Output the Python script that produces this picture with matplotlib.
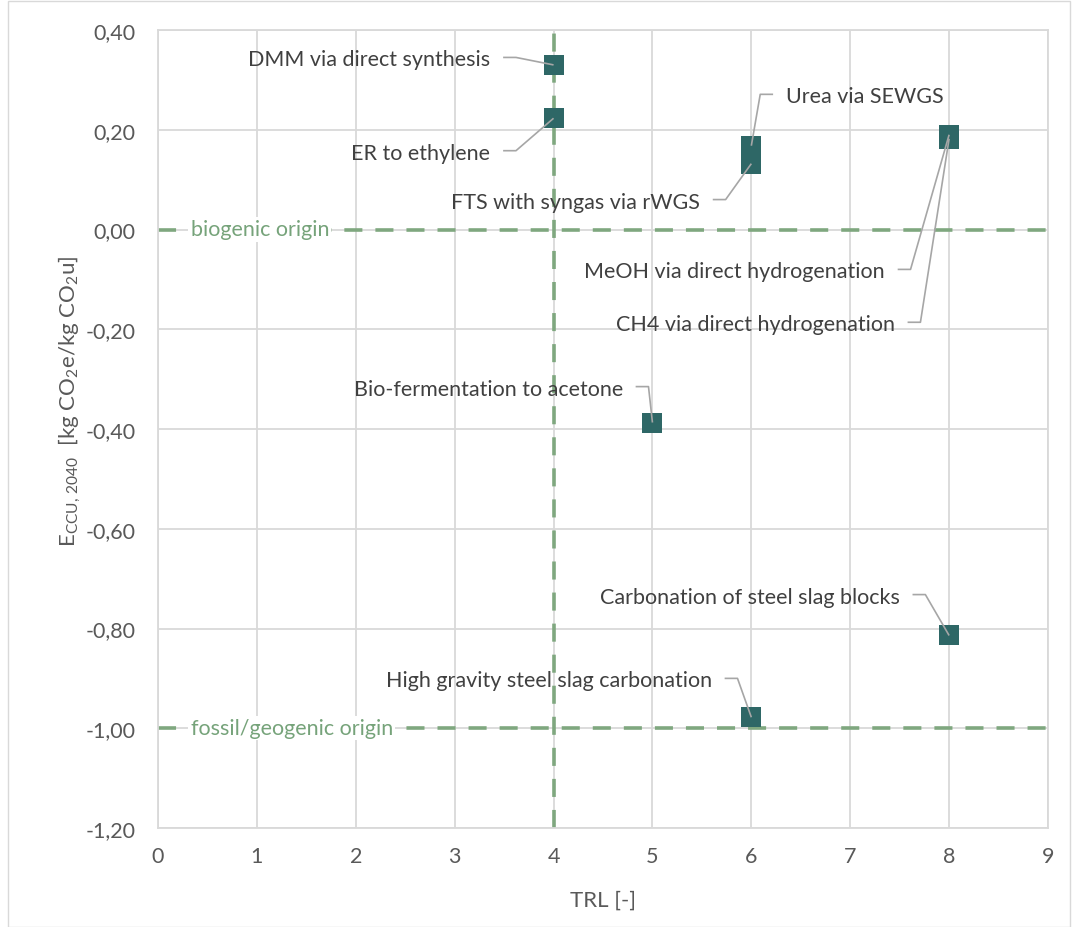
import matplotlib
matplotlib.use("Agg")
import matplotlib.pyplot as plt
from matplotlib.ticker import FuncFormatter, MultipleLocator
from matplotlib.patches import Rectangle

plt.rcParams['font.family'] = ['Lato', 'DejaVu Sans']
plt.rcParams['mathtext.fontset'] = 'custom'
plt.rcParams['mathtext.rm'] = 'Lato'
plt.rcParams['mathtext.it'] = 'Lato'

# data
names = ['DMM via direct synthesis', 'ER to ethylene', 'Urea via SEWGS',
         'FTS with syngas via rWGS', 'MeOH via direct hydrogenation',
         'CH4 via direct hydrogenation', 'Bio-fermentation to acetone',
         'Carbonation of steel slag blocks', 'High gravity steel slag carbonation']
trl = [4, 4, 6, 6, 8, 8, 5, 8, 6]
e_ccu = [0.33, 0.223, 0.168, 0.132, 0.19, 0.182, -0.387, -0.814, -0.978]

# reference lines
h_refs = [0.0, -1.0]
h_ref_labels = ['biogenic origin', 'fossil/geogenic origin']
v_ref = 4

# label layout: text anchor (x, y), alignment
label_pos = [(3.36, 0.341, 'right'), (3.36, 0.154, 'right'), (6.35, 0.267, 'left'),
             (5.48, 0.056, 'right'), (7.35, -0.084, 'right'), (7.45, -0.19, 'right'),
             (4.7, -0.319, 'right'), (7.5, -0.736, 'right'), (5.6, -0.904, 'right')]

marker_col = '#2E6766'
green = '#7FA77F'
text_col = '#404040'
grid_col = '#D9D9D9'
leader_col = '#A6A6A6'

fig = plt.figure(figsize=(10.78, 9.28), dpi=100)
ax = fig.add_axes([158/1078, 1 - 829/928, 890/1078, 798/928])
fig.patches.append(Rectangle((8/1078, 0), 1 - 16/1078, 1 - 2/928, transform=fig.transFigure,
                             fill=False, edgecolor=grid_col, lw=1))

ax.set_xlim(0, 9)
ax.set_ylim(-1.2, 0.4)
ax.xaxis.set_major_locator(MultipleLocator(1))
ax.yaxis.set_major_locator(MultipleLocator(0.2))
ax.yaxis.set_major_formatter(FuncFormatter(lambda v, p: f"{v:.2f}".replace('.', ',')))
ax.grid(True, color=grid_col, lw=1.3)
ax.set_axisbelow(True)
for s in ax.spines.values():
    s.set_color(grid_col)
    s.set_linewidth(1.3)
ax.tick_params(length=0, labelsize=15.5, labelcolor='#595959')
ax.tick_params(axis='x', pad=13)
ax.tick_params(axis='y', pad=16)

# dashed reference lines
for yv in h_refs:
    ax.axhline(yv, color=green, lw=2.6, dashes=(5, 3.6), zorder=2)
ax.axvline(v_ref, color=green, lw=2.6, dashes=(5, 3.6), zorder=2)
for yv, lab in zip(h_refs, h_ref_labels):
    ax.text(0.33, yv, lab, color='#76A37A', fontsize=15.5, va='center', ha='left',
            bbox=dict(facecolor='white', edgecolor='none', pad=1.5), zorder=3)

ax.scatter(trl, e_ccu, marker='s', s=190, color=marker_col, zorder=4, linewidths=0)

# labels with leader lines
for n, x, y, (tx, ty, ha) in zip(names, trl, e_ccu, label_pos):
    ax.text(tx, ty, n, ha=ha, va='center', fontsize=15.5, color=text_col, zorder=5)
    gap, stub = 0.13, 0.13
    if ha == 'right':
        x0, x1 = tx + gap, tx + gap + stub
    else:
        x0, x1 = tx - gap, tx - gap - stub
    ax.plot([x0, x1, x], [ty + 0.004, ty + 0.004, y], color=leader_col, lw=1.2,
            zorder=5, solid_capstyle='butt')

ax.set_xlabel('TRL [-]', fontsize=16, color='#595959')
ax.xaxis.set_label_coords(0.5, -0.077)
ax.set_ylabel(r'$\mathregular{E_{CCU,\,2040}}$  [kg CO$_\mathregular{2}$e/kg CO$_\mathregular{2}$u]',
              fontsize=16, color='#595959')
ax.yaxis.set_label_coords(-0.084, 0.536)

fig.savefig('out.png', dpi=100)
